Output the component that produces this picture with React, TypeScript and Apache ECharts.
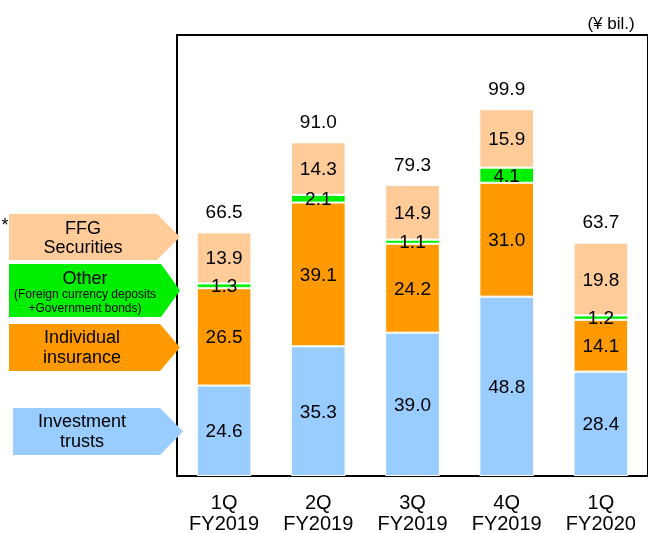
import React, { useEffect, useRef } from "react";
import * as echarts from "echarts";

const categories = ["1Q\nFY2019", "2Q\nFY2019", "3Q\nFY2019", "4Q\nFY2019", "1Q\nFY2020"];
const investmentTrusts = [24.6, 35.3, 39.0, 48.8, 28.4];
const individualInsurance = [26.5, 39.1, 24.2, 31.0, 14.1];
const other = [1.3, 2.1, 1.1, 4.1, 1.2];
const ffgSecurities = [13.9, 14.3, 14.9, 15.9, 19.8];
const totals = [66.5, 91.0, 79.3, 99.9, 63.7];

const FONT = "Liberation Sans, Arial, sans-serif";

export default function App() {
  const ref = useRef<HTMLDivElement>(null);
  useEffect(() => {
    if (!ref.current) return;
    const chart = echarts.init(ref.current, undefined, { renderer: "svg" });
    const valueLabel = {
      show: true,
      position: "inside",
      color: "#000",
      fontSize: 19,
      fontFamily: FONT,
      formatter: (p: any) => Number(p.value).toFixed(1),
    };
    const barCommon = {
      type: "bar",
      stack: "total",
      barWidth: "58%",
      label: valueLabel,
    };
    const arrow = (x0: number, y0: number, x1: number, x2: number, y1: number, color: string) => ({
      type: "polygon",
      shape: {
        points: [
          [x0, y0],
          [x1, y0],
          [x2, (y0 + y1) / 2],
          [x1, y1],
          [x0, y1],
        ],
      },
      style: { fill: color },
    });
    const txt = (x: number, y: number, text: string, size: number) => ({
      type: "text",
      x,
      y,
      style: {
        text,
        fill: "#000",
        font: `${size}px ${FONT}`,
        textAlign: "center",
        textVerticalAlign: "middle",
      },
    });
    chart.setOption({
      animation: false,
      grid: {
        left: 177,
        top: 35,
        right: -2,
        bottom: 55,
        show: true,
        borderColor: "#000",
        borderWidth: 2,
      },
      xAxis: {
        type: "category",
        data: categories,
        axisLine: { lineStyle: { color: "#000", width: 2 } },
        axisTick: { inside: true, length: 5, lineStyle: { color: "#000", width: 2 } },
        axisLabel: {
          color: "#000",
          fontSize: 20,
          fontFamily: FONT,
          margin: 15,
          lineHeight: 21,
        },
      },
      yAxis: {
        type: "value",
        min: 0,
        max: 120,
        show: false,
        splitLine: { show: false },
      },
      series: [
        {
          ...barCommon,
          name: "Investment trusts",
          data: investmentTrusts,
          itemStyle: { color: "#99ccff", borderColor: "#fff", borderWidth: 1 },
        },
        {
          ...barCommon,
          name: "Individual insurance",
          data: individualInsurance,
          itemStyle: { color: "#ff9900", borderColor: "#fff", borderWidth: 1 },
        },
        {
          ...barCommon,
          name: "Other",
          data: other,
          itemStyle: { color: "#00ee00", borderColor: "#fff", borderWidth: 1 },
        },
        {
          ...barCommon,
          name: "FFG Securities",
          data: ffgSecurities,
          itemStyle: { color: "#ffcc99", borderColor: "#fff", borderWidth: 1 },
        },
        {
          type: "scatter",
          name: "Total",
          data: totals,
          symbolSize: 1,
          itemStyle: { color: "rgba(0,0,0,0)", opacity: 1 },
          label: {
            show: true,
            position: "top",
            distance: 10,
            color: "#000",
            fontSize: 19,
            fontFamily: FONT,
            formatter: (p: any) => Number(p.value).toFixed(1),
          },
        },
      ],
      graphic: [
        arrow(9, 214, 157, 180, 260, "#ffcc99"),
        arrow(9, 264, 161, 180, 317, "#00ee00"),
        arrow(9, 324, 160, 180, 371, "#ff9900"),
        arrow(13, 408, 160, 183, 455, "#99ccff"),
        txt(83, 228, "FFG", 18),
        txt(83, 247, "Securities", 18),
        {
          type: "text",
          x: 85,
          y: 292,
          style: {
            text: "{a|Other}\n{b|(Foreign currency deposits}\n{b|+Government bonds)}",
            fill: "#000",
            textAlign: "center",
            textVerticalAlign: "middle",
            rich: {
              a: { fontSize: 18, lineHeight: 18, fontFamily: FONT, fill: "#000", align: "center" },
              b: { fontSize: 12, lineHeight: 14, fontFamily: FONT, fill: "#000", align: "center" },
            },
          },
        },
        txt(82, 337, "Individual", 18),
        txt(82, 357, "insurance", 18),
        txt(82, 421, "Investment", 18),
        txt(82, 441, "trusts", 18),
        txt(5, 225, "*", 18),
        txt(611, 23, "(¥ bil.)", 17),
      ],
    });
    return () => chart.dispose();
  }, []);
  return (
    <div
      ref={ref}
      style={{ position: "fixed", left: 0, top: 0, width: 648, height: 533 }}
    />
  );
}
